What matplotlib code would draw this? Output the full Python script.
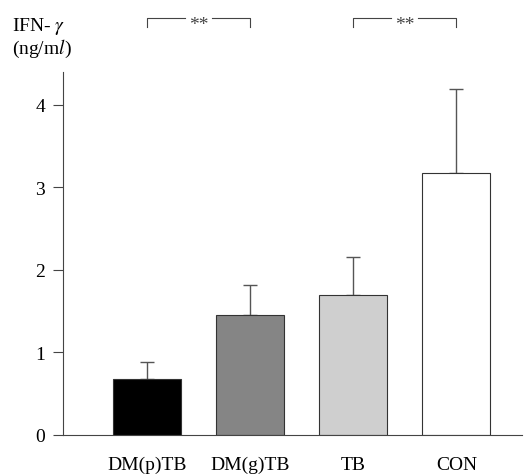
import matplotlib
matplotlib.use("Agg")
import matplotlib.pyplot as plt
import numpy as np

plt.rcParams['font.family'] = ['Liberation Serif', 'DejaVu Serif']
plt.rcParams['mathtext.fontset'] = 'stix'

groups = ['DM(p)TB', 'DM(g)TB', 'TB', 'CON']
means = [0.68, 1.45, 1.70, 3.18]
errs = [0.21, 0.37, 0.46, 1.01]
colors = ['#000000', '#858585', '#cfcfcf', '#ffffff']
sig_pairs = [(0, 1), (2, 3)]
sig_text = '**'

fig = plt.figure(figsize=(5.26, 4.77), dpi=100)
ax = fig.add_axes([0.12, 0.086, 0.873, 0.761])

x = np.arange(len(groups))
ax.bar(x, means, width=0.66, color=colors, edgecolor='#333333', linewidth=0.8, zorder=2)
ax.errorbar(x, means, yerr=[np.zeros(len(errs)), errs], fmt='none',
            ecolor='#555555', elinewidth=1.0, capsize=5, capthick=1.0, zorder=1)

ax.set_xlim(-0.816, 3.64)
ax.set_ylim(0, 4.4)
ax.set_yticks([0, 1, 2, 3, 4])
ax.set_xticks(x)
ax.set_xticklabels(groups)
ax.tick_params(axis='x', length=0, labelsize=14, pad=15)
ax.tick_params(axis='y', direction='out', length=7, width=0.8, labelsize=14,
               color='#444444', pad=6)
for s in ['top', 'right']:
    ax.spines[s].set_visible(False)
for s in ['left', 'bottom']:
    ax.spines[s].set_color('#444444')
    ax.spines[s].set_linewidth(0.8)

# significance brackets
for a, b in sig_pairs:
    top, bot = 5.05, 4.94
    mid = (a + b) / 2
    gap = 0.13
    ax.plot([a, a, mid - gap], [bot, top, top], color='#444444', lw=0.8, clip_on=False)
    ax.plot([mid + gap, b, b], [top, top, bot], color='#444444', lw=0.8, clip_on=False)
    ax.text(mid, top - 0.07, sig_text, ha='center', va='center', fontsize=14, color='#444444')

fig.text(0.022, 0.945, r'IFN- $\gamma$', fontsize=14, ha='left', va='center')
fig.text(0.022, 0.897, r'(ng/m$\mathit{l}$)', fontsize=14, ha='left', va='center')

fig.savefig('out.png', dpi=100)
